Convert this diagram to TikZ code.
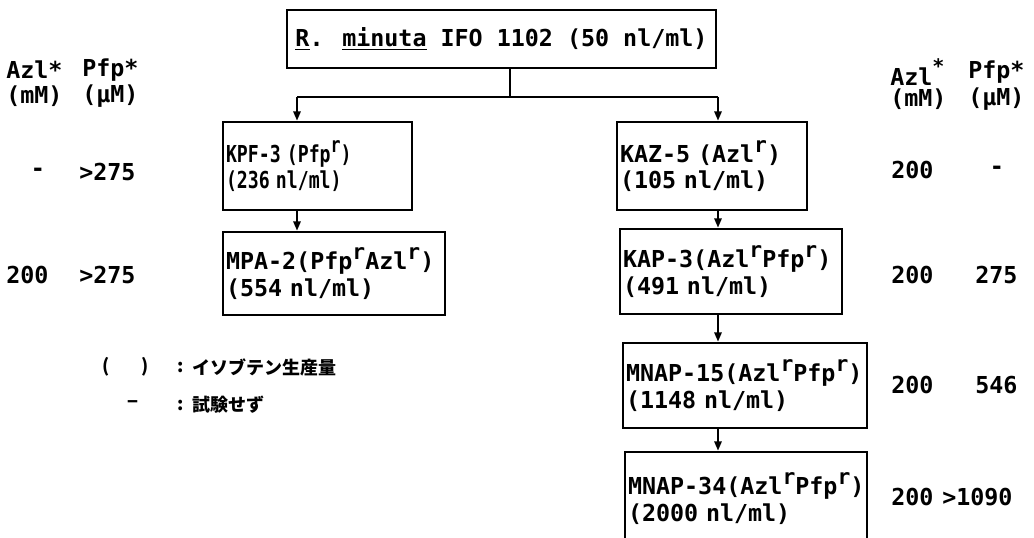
\documentclass[tikz,border=0pt]{standalone}
\usepackage{fontspec}
\usepackage{graphicx}
\setmainfont{DejaVu Sans Mono}
\newfontfamily\cjk{Noto Sans CJK JP}
\usetikzlibrary{arrows.meta}
\newcommand\supr{\raisebox{0.42em}{\fontsize{16}{16}\selectfont r}}
\newcommand\supstar{\raisebox{0.5em}{\fontsize{15}{15}\selectfont *}}
\begin{document}
\begin{tikzpicture}[x=0.75pt,y=-0.75pt,
  tw/.style={font=\bfseries\fontsize{17.5}{20}\selectfont, inner sep=0pt},
  box/.style={draw, line width=2pt, tw, inner xsep=2.25pt, inner ysep=0pt, align=left},
  conn/.style={line width=1.5pt},
  arr/.style={conn, -{Triangle[length=7pt,width=5.5pt]}},
  jp/.style={font=\cjk\bfseries\fontsize{13.5}{13.5}\selectfont, inner sep=0pt}]
\useasboundingbox (0,0) rectangle (1034,538);
% boxes
\node[box, align=center, minimum width=321.75pt, minimum height=43.5pt,
  font=\bfseries\fontsize{17.5}{20}\selectfont] (top) at (501.5,39)
  {\underline{R}. \underline{minuta} IFO 1102 (50 nl/ml)};
\node[box, text width=137.25pt, minimum height=66pt] (kpf) at (317.5,166)
  {\scalebox{0.78}[1]{\mbox{KPF-3 (Pfp\supr)}}\\\scalebox{0.78}[1]{\mbox{(236 nl/ml)}}};
\node[box, text width=162pt, minimum height=62.25pt] (mpa) at (334,273.5)
  {\mbox{MPA-2(Pfp\supr Azl\supr)}\\\mbox{(554 nl/ml)}};
\node[box, text width=138pt, minimum height=66pt] (kaz) at (712,166)
  {\mbox{KAZ-5 (Azl\supr)}\\\mbox{(105 nl/ml)}};
\node[box, text width=162pt, minimum height=63.75pt] (kap) at (731,271.5)
  {\mbox{KAP-3(Azl\supr Pfp\supr)}\\\mbox{(491 nl/ml)}};
\node[box, text width=178.5pt, minimum height=63.75pt] (m15) at (745,385.5)
  {\mbox{MNAP-15(Azl\supr Pfp\supr)}\\\mbox{(1148 nl/ml)}};
\node[box, text width=177pt, minimum height=69.75pt] (m34) at (746,498.5)
  {\mbox{MNAP-34(Azl\supr Pfp\supr)}\\\mbox{(2000 nl/ml)}};
% connectors
\coordinate (j) at (510,97);
\coordinate (jl) at (297,97);
\coordinate (jr) at (718,97);
\draw[conn] (top.south -| j) -- (j);
\draw[conn] (jl) -- (jr);
\draw[arr] (jl) -- (kpf.north -| jl);
\draw[arr] (jr) -- (kaz.north -| jr);
\draw[arr] (kpf.south -| jl) -- (mpa.north -| jl);
\draw[arr] (kaz.south -| jr) -- (kap.north -| jr);
\draw[arr] (kap.south -| jr) -- (m15.north -| jr);
\draw[arr] (m15.south -| jr) -- (m34.north -| jr);
% left columns
\node[tw, anchor=west] (lh1) at (6,70) {Azl*};
\node[tw, anchor=west] (lh2) at (82,70) {Pfp*};
\node[tw, anchor=west] (lu1) at (6,96) {(mM)};
\node[tw, anchor=west] (lu2) at (82,96) {(μM)};
\node[tw] (la1) at (38,172) {-};
\node[tw, anchor=west] (lb1) at (79,172) {>275};
\node[tw, anchor=west] (la2) at (6,275) {200};
\node[tw, anchor=west] (lb2) at (79,275) {>275};
% right columns
\node[tw, anchor=west] (rh1) at (890,72) {Azl\supstar};
\node[tw, anchor=west] (rh2) at (968,72) {Pfp*};
\node[tw, anchor=west] (ru1) at (890,99) {(mM)};
\node[tw, anchor=west] (ru2) at (968,99) {(μM)};
\node[tw, anchor=west] (ra1) at (891,170) {200};
\node[tw] (rb1) at (997,170) {-};
\node[tw, anchor=west] (ra2) at (891,275) {200};
\node[tw, anchor=west] (rb2) at (975,275) {275};
\node[tw, anchor=west] (ra3) at (891,385) {200};
\node[tw, anchor=west] (rb3) at (975,385) {546};
\node[tw, anchor=west] (ra4) at (891,497) {200};
\node[tw, anchor=west] (rb4) at (942,497) {>1090};
% legend
\node[jp] (lp) at (106,367) {(};
\node[jp] (rp) at (145,367) {)};
\node[jp] (c1) at (181,367) {:};
\node[jp, anchor=west] (l1) at (192,367) {イソブテン生産量};
\node[jp] (dash) at (133,405) {−};
\node[jp] (c2) at (181,405) {:};
\node[jp, anchor=west] (l2) at (192,405) {試験せず};
\end{tikzpicture}
\end{document}
